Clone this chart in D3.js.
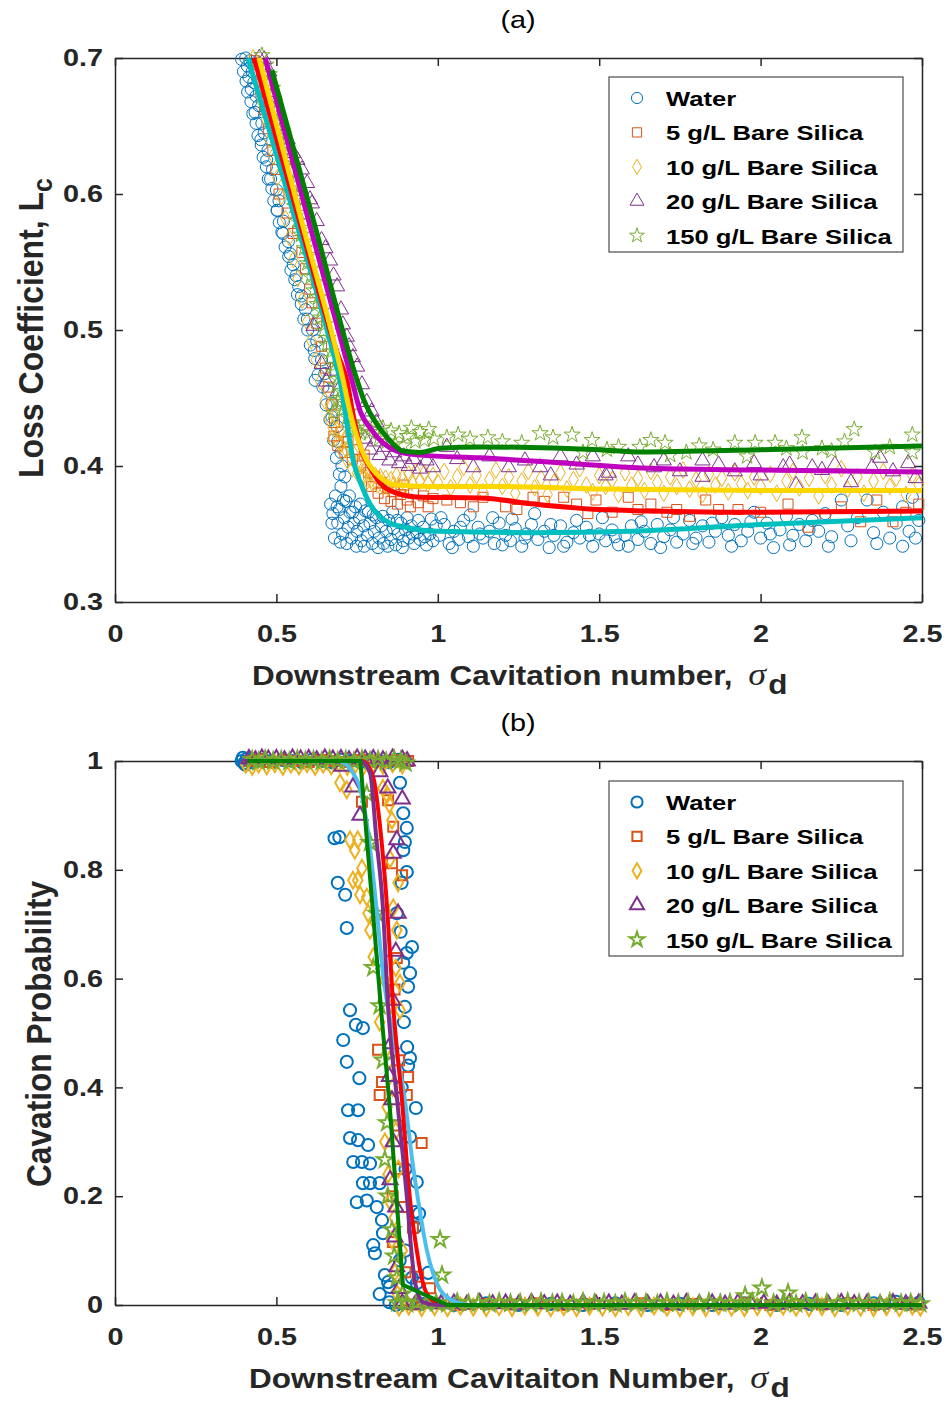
<!DOCTYPE html>
<html>
<head>
<meta charset="utf-8">
<script src="https://cdn.jsdelivr.net/npm/d3@7"></script>
<style>
  body { margin: 0; background: #fff; }
  svg text { font-family: "Liberation Sans", Arial, sans-serif; }
</style>
</head>
<body>
<div id="chart"></div>
<script>
// ---- tick labels and series names ----
const xTicks = [0, 0.5, 1, 1.5, 2, 2.5];
const yTicksA = [0.3, 0.4, 0.5, 0.6, 0.7];
const yTicksB = [0, 0.2, 0.4, 0.6, 0.8, 1];
const seriesNames = ["Water", "5 g/L Bare Silica", "10 g/L Bare Silica", "20 g/L Bare Silica", "150 g/L Bare Silica"];

// ---- (a) loss coefficient, measured points [sigma_d, Lc] ----
const waterA = [
  [0.405,0.700],[0.418,0.698],[0.410,0.694],[0.425,0.690],[0.415,0.686],[0.430,0.682],[0.422,0.677],[0.437,0.672],
  [0.445,0.665],[0.434,0.660],[0.455,0.652],[0.462,0.645],[0.452,0.640],[0.474,0.632],[0.470,0.625],[0.488,0.618],
  [0.482,0.611],[0.500,0.603],[0.508,0.595],[0.503,0.588],[0.522,0.580],[0.517,0.572],[0.537,0.565],[0.543,0.556],
  [0.552,0.548],[0.561,0.540],[0.569,0.532],[0.578,0.525],[0.590,0.515],[0.596,0.508],[0.612,0.500],[0.625,0.492],
  [0.617,0.485],[0.640,0.478],[0.650,0.468],[0.620,0.463],[0.660,0.455],[0.672,0.446],[0.672,0.436],[0.688,0.429],
  [0.690,0.418],[0.700,0.410],[0.703,0.400],[0.712,0.392],
  [0.392,0.699],[0.398,0.690],[0.406,0.683],[0.411,0.675],[0.421,0.668],[0.427,0.659],[0.437,0.652],[0.443,0.643],
  [0.453,0.636],[0.459,0.627],[0.469,0.620],[0.475,0.611],[0.486,0.604],[0.492,0.595],[0.502,0.588],[0.509,0.579],
  [0.520,0.571],[0.527,0.561],[0.538,0.554],[0.545,0.544],[0.557,0.537],[0.565,0.526],[0.577,0.519],[0.585,0.508],
  [0.597,0.500],[0.605,0.489],[0.619,0.479],[0.629,0.467],[0.644,0.458],[0.654,0.445],[0.666,0.434],[0.677,0.419],
  [0.686,0.406],[0.695,0.394],
  [0.668,0.372],[0.675,0.365],[0.683,0.378],[0.690,0.358],[0.695,0.368],[0.700,0.385],[0.705,0.350],[0.710,0.362],
  [0.716,0.374],[0.722,0.355],[0.728,0.366],[0.733,0.347],[0.740,0.358],[0.745,0.370],[0.750,0.352],[0.757,0.362],
  [0.763,0.345],[0.770,0.356],[0.776,0.367],[0.782,0.349],[0.790,0.358],[0.797,0.343],[0.803,0.352],[0.810,0.362],
  [0.818,0.347],[0.825,0.356],[0.832,0.343],[0.840,0.352],[0.848,0.360],[0.855,0.346],[0.863,0.354],[0.870,0.342],
  [0.878,0.350],[0.886,0.358],[0.893,0.345],[0.900,0.353],[0.910,0.347],[0.918,0.356],[0.927,0.343],[0.935,0.351],
  [0.945,0.346],[0.955,0.355],[0.965,0.342],[0.975,0.350],[0.985,0.345],[0.995,0.356],
  [0.672,0.358],[0.680,0.347],[0.688,0.370],[0.698,0.344],[0.708,0.375],[0.718,0.343],[0.726,0.378],[0.736,0.366],
  [0.748,0.341],[0.760,0.372],[0.772,0.341],[0.785,0.366],[0.800,0.364],[0.815,0.340],[0.830,0.363],[0.845,0.341],
  [0.860,0.366],[0.875,0.360],[0.890,0.340],[0.905,0.362],[0.922,0.350],[0.940,0.360],[0.960,0.348],[0.980,0.361],
  [1.005,0.349],[1.020,0.357],[1.035,0.343],[1.050,0.352],[1.065,0.346],[1.080,0.360],[1.095,0.348],[1.110,0.341],
  [1.125,0.355],[1.140,0.347],[1.160,0.352],[1.175,0.343],[1.190,0.358],[1.210,0.349],[1.225,0.345],[1.240,0.354],
  [1.260,0.341],[1.275,0.350],[1.290,0.357],[1.310,0.346],[1.330,0.352],[1.345,0.340],[1.360,0.349],[1.380,0.356],
  [1.400,0.344],[1.420,0.351],[1.440,0.347],[1.460,0.355],[1.480,0.341],[1.500,0.350],[1.520,0.345],[1.540,0.353],
  [1.560,0.342],[1.580,0.349],[1.600,0.356],[1.620,0.346],[1.640,0.352],[1.660,0.343],[1.680,0.357],[1.700,0.348],
  [1.720,0.353],[1.740,0.344],[1.760,0.350],[1.780,0.360],[1.800,0.347],[1.820,0.356],[1.840,0.344],[1.860,0.352],
  [1.880,0.362],[1.900,0.349],[1.920,0.357],[1.940,0.345],[1.960,0.352],[1.980,0.366],[2.000,0.347],[2.020,0.358],
  [2.040,0.340],[2.060,0.353],[2.080,0.363],[2.100,0.349],[2.120,0.357],[2.140,0.345],[2.160,0.360],[2.180,0.352],
  [2.200,0.365],[2.220,0.348],[2.250,0.375],[2.270,0.356],[2.300,0.362],[2.330,0.375],[2.350,0.351],[2.380,0.366],
  [2.400,0.347],[2.420,0.358],[2.440,0.370],[2.460,0.352],[2.470,0.377],[2.490,0.360],
  [1.010,0.362],[1.045,0.340],[1.070,0.355],[1.100,0.364],[1.130,0.350],[1.170,0.362],[1.200,0.342],[1.230,0.361],
  [1.270,0.347],[1.300,0.365],[1.350,0.357],[1.390,0.341],[1.430,0.360],[1.470,0.349],[1.510,0.362],[1.550,0.348],
  [1.590,0.341],[1.630,0.359],[1.690,0.340],[1.730,0.362],[1.790,0.343],[1.850,0.358],[1.910,0.341],[1.970,0.359],
  [2.030,0.350],[2.090,0.342],[2.150,0.353],[2.210,0.341],[2.280,0.345],[2.360,0.343],[2.440,0.341],[2.480,0.347]
];
const silica5A = [
  [0.432,0.698],[0.441,0.688],[0.452,0.675],[0.463,0.662],[0.476,0.648],[0.489,0.632],[0.498,0.618],[0.508,0.600],
  [0.533,0.586],[0.552,0.571],[0.566,0.573],[0.579,0.557],[0.590,0.545],[0.603,0.530],[0.610,0.520],[0.625,0.505],
  [0.640,0.488],[0.652,0.472],[0.662,0.458],[0.672,0.445],[0.680,0.432],
  [0.678,0.422],[0.690,0.415],[0.700,0.425],[0.712,0.410],[0.722,0.418],[0.735,0.405],[0.748,0.412],[0.760,0.400],
  [0.772,0.408],[0.785,0.395],[0.795,0.385],[0.805,0.392],[0.815,0.380],[0.825,0.388],[0.835,0.376],[0.845,0.384],
  [0.855,0.374],[0.865,0.381],[0.875,0.372],[0.885,0.379],[0.895,0.386],[0.905,0.375],[0.915,0.370],[0.925,0.380],
  [0.940,0.373],[0.955,0.378],[0.970,0.370],[0.985,0.376],
  [1.028,0.375],[1.070,0.373],[1.110,0.370],[1.140,0.377],[1.210,0.370],[1.245,0.368],[1.295,0.377],[1.330,0.374],
  [1.390,0.377],[1.430,0.372],[1.465,0.365],[1.490,0.375],[1.540,0.366],[1.590,0.377],[1.620,0.368],[1.660,0.372],
  [1.710,0.366],[1.740,0.368],[1.780,0.363],[1.830,0.375],[1.870,0.368],[1.930,0.368],[2.000,0.366],[2.085,0.372],
  [2.147,0.355],[2.200,0.362],[2.250,0.370],[2.310,0.359],[2.360,0.375],[2.410,0.359],[2.450,0.366],[2.490,0.372]
];
const silica10A = [
  [0.428,0.700],[0.438,0.690],[0.446,0.680],[0.455,0.668],[0.468,0.655],[0.480,0.640],[0.490,0.628],[0.503,0.612],
  [0.515,0.598],[0.528,0.582],[0.540,0.568],[0.553,0.552],[0.566,0.538],[0.580,0.522],[0.595,0.506],[0.608,0.492],
  [0.622,0.478],[0.636,0.462],[0.650,0.448],[0.662,0.435],
  [0.666,0.445],[0.675,0.428],[0.682,0.436],[0.690,0.418],[0.698,0.425],[0.705,0.410],[0.712,0.420],[0.720,0.404],
  [0.728,0.415],[0.735,0.398],[0.742,0.408],[0.750,0.395],[0.758,0.402],[0.766,0.392],[0.774,0.398],[0.782,0.389],
  [0.790,0.395],[0.798,0.387],[0.806,0.393],[0.814,0.386],[0.822,0.392],[0.830,0.385],[0.838,0.391],[0.846,0.384],
  [0.855,0.390],[0.863,0.386],[0.872,0.393],[0.880,0.385],[0.890,0.391],[0.900,0.386],[0.910,0.394],[0.920,0.388],
  [0.932,0.396],[0.945,0.389],[0.958,0.395],[0.970,0.387],[0.985,0.393],
  [0.672,0.420],[0.686,0.427],[0.700,0.416],[0.716,0.412],[0.732,0.406],[0.748,0.402],[0.770,0.392],[0.794,0.390],
  [1.000,0.388],[1.020,0.396],[1.040,0.384],[1.060,0.392],[1.080,0.399],[1.100,0.386],[1.120,0.393],[1.140,0.381],
  [1.160,0.390],[1.180,0.397],[1.200,0.385],[1.220,0.392],[1.240,0.380],[1.260,0.389],[1.280,0.396],[1.300,0.384],
  [1.320,0.391],[1.340,0.379],[1.360,0.388],[1.380,0.395],[1.400,0.383],[1.420,0.390],[1.440,0.398],[1.460,0.386],
  [1.480,0.381],[1.500,0.393],[1.520,0.385],[1.540,0.390],[1.560,0.379],[1.580,0.395],[1.600,0.386],[1.620,0.391],
  [1.640,0.382],[1.660,0.396],[1.680,0.388],[1.700,0.380],[1.720,0.392],[1.740,0.385],[1.760,0.397],[1.780,0.383],
  [1.800,0.390],[1.820,0.379],[1.840,0.394],[1.860,0.386],[1.880,0.391],[1.900,0.381],[1.920,0.395],[1.940,0.387],
  [1.960,0.382],[1.980,0.392],[2.000,0.385],[2.030,0.394],[2.050,0.380],[2.080,0.389],[2.100,0.396],[2.120,0.384],
  [2.150,0.391],[2.180,0.378],[2.200,0.393],[2.220,0.386],[2.250,0.398],[2.270,0.383],[2.300,0.392],[2.320,0.380],
  [2.350,0.389],[2.380,0.396],[2.400,0.385],[2.420,0.391],[2.450,0.379],[2.470,0.393],[2.490,0.386]
];
const silica20A = [
  [0.447,0.700],[0.462,0.699],[0.478,0.690],[0.492,0.675],[0.505,0.662],[0.520,0.650],[0.535,0.640],[0.552,0.630],
  [0.565,0.625],[0.579,0.618],[0.595,0.608],[0.604,0.596],[0.610,0.593],[0.625,0.580],[0.640,0.566],[0.652,0.560],
  [0.666,0.551],[0.677,0.540],[0.688,0.532],[0.700,0.515],[0.706,0.504],[0.718,0.495],[0.725,0.488],[0.737,0.480],
  [0.750,0.473],[0.765,0.460],[0.780,0.447],[0.795,0.440],[0.810,0.432],
  [0.615,0.503],[0.640,0.475],[0.655,0.462],[0.672,0.470],[0.690,0.455],
  [0.775,0.420],[0.790,0.412],[0.805,0.418],[0.820,0.408],[0.835,0.414],[0.850,0.404],[0.865,0.410],[0.880,0.402],
  [0.895,0.407],[0.910,0.400],[0.925,0.405],[0.945,0.398],[0.965,0.404],[0.985,0.399],
  [1.028,0.414],[1.060,0.405],[1.110,0.399],[1.160,0.407],[1.220,0.399],[1.270,0.404],[1.317,0.399],[1.350,0.393],
  [1.380,0.407],[1.430,0.401],[1.480,0.407],[1.520,0.393],[1.530,0.395],[1.590,0.407],[1.620,0.401],[1.670,0.399],
  [1.700,0.404],[1.750,0.396],[1.820,0.404],[1.820,0.392],[1.870,0.401],[1.920,0.396],[1.980,0.402],[2.000,0.393],
  [2.070,0.399],[2.090,0.401],[2.110,0.386],[2.160,0.399],[2.190,0.397],[2.230,0.401],[2.280,0.388],[2.345,0.399],
  [2.370,0.406],[2.410,0.396],[2.457,0.402],[2.480,0.391]
];
const silica150A = [
  [0.455,0.702],[0.468,0.695],[0.478,0.688],[0.488,0.678],[0.495,0.668],[0.505,0.658],[0.514,0.648],[0.522,0.638],
  [0.532,0.628],[0.542,0.617],[0.550,0.607],[0.560,0.597],[0.570,0.586],[0.580,0.575],[0.590,0.565],[0.600,0.555],
  [0.610,0.545],[0.620,0.535],[0.630,0.524],[0.640,0.514],[0.650,0.504],[0.660,0.494],[0.670,0.484],[0.680,0.474],
  [0.690,0.464],[0.700,0.455],[0.712,0.447],[0.724,0.440],[0.738,0.432],[0.752,0.428],[0.675,0.439],[0.690,0.448],
  [0.462,0.690],[0.474,0.680],[0.483,0.672],[0.492,0.662],[0.501,0.652],[0.510,0.642],[0.519,0.632],[0.528,0.622],
  [0.537,0.612],[0.547,0.601],[0.556,0.591],[0.566,0.580],[0.576,0.570],[0.586,0.560],[0.596,0.549],[0.606,0.539],
  [0.616,0.529],[0.626,0.519],[0.636,0.509],[0.646,0.499],[0.656,0.489],[0.666,0.479],[0.676,0.469],[0.686,0.459],
  [0.697,0.450],[0.708,0.442],[0.720,0.436],[0.732,0.430],[0.745,0.426],[0.760,0.424],[0.775,0.428],
  [0.790,0.425],[0.805,0.431],[0.818,0.420],[0.830,0.428],[0.842,0.418],[0.855,0.426],[0.868,0.416],[0.880,0.424],
  [0.893,0.415],[0.905,0.422],[0.918,0.428],[0.930,0.418],[0.945,0.425],[0.958,0.419],[0.972,0.427],[0.988,0.420],
  [1.028,0.421],[1.063,0.423],[1.100,0.420],[1.155,0.421],[1.200,0.418],[1.260,0.417],[1.317,0.424],[1.357,0.421],
  [1.416,0.423],[1.450,0.410],[1.478,0.419],[1.524,0.412],[1.560,0.414],[1.626,0.414],[1.660,0.419],[1.704,0.417],
  [1.720,0.408],[1.770,0.410],[1.810,0.415],[1.853,0.412],[1.920,0.417],[1.958,0.407],[1.983,0.417],[2.045,0.417],
  [2.080,0.413],[2.128,0.421],[2.130,0.410],[2.190,0.413],[2.220,0.411],[2.260,0.418],[2.290,0.427],[2.355,0.410],
  [2.400,0.414],[2.470,0.423],[2.470,0.410]
];

// ---- (a) fitted curves ----
const fitWaterA = [[0.412,0.700],[0.536,0.600],[0.657,0.500],[0.697,0.463],[0.740,0.402],[0.765,0.385],[0.790,0.372],
  [0.820,0.363],[0.852,0.358],[0.900,0.355],[0.945,0.353],[1.000,0.352],[1.300,0.351],[1.600,0.352],[2.000,0.357],[2.500,0.362]];
const fit5A = [[0.431,0.700],[0.560,0.590],[0.690,0.482],[0.718,0.463],[0.738,0.437],[0.760,0.414],[0.790,0.399],
  [0.820,0.388],[0.873,0.380],[0.945,0.377],[1.130,0.3765],[1.300,0.372],[1.500,0.368],[1.650,0.367],[2.000,0.366],[2.500,0.367]];
const fit10A = [[0.446,0.700],[0.576,0.582],[0.707,0.463],[0.728,0.440],[0.750,0.421],[0.780,0.404],[0.820,0.392],
  [0.873,0.386],[0.976,0.385],[1.200,0.385],[1.500,0.383],[2.000,0.382],[2.500,0.382]];
const fit20A = [[0.465,0.700],[0.600,0.580],[0.734,0.463],[0.760,0.440],[0.790,0.428],[0.830,0.417],[0.873,0.411],
  [0.945,0.408],[1.130,0.406],[1.400,0.402],[1.630,0.3985],[2.000,0.397],[2.500,0.3956]];
const fit150A = [[0.486,0.691],[0.620,0.576],[0.750,0.463],[0.770,0.449],[0.790,0.439],[0.843,0.421],[0.892,0.411],
  [0.945,0.410],[1.007,0.413],[1.130,0.414],[1.500,0.412],[1.630,0.4103],[2.000,0.412],[2.500,0.4147]];

// ---- (b) cavitation probability, measured points [sigma_d, P] ----
const waterB = [
  [0.392,1.000],[0.400,0.996],[0.408,1.004],[0.418,1.000],[0.430,0.997],[0.450,1.002],[0.470,1.000],[0.490,0.998],
  [0.520,1.002],[0.550,1.000],[0.580,0.997],[0.610,1.002],[0.640,1.000],[0.670,0.998],[0.700,1.002],[0.730,1.000],
  [0.760,0.998],[0.790,1.002],[0.820,1.000],[0.850,0.998],[0.877,1.002],[0.897,1.000],[0.396,1.006],[0.404,0.993],
  [0.883,0.960],[0.893,0.904],[0.904,0.877],[0.898,0.851],[0.893,0.836],[0.904,0.796],[0.888,0.776],[0.873,0.720],
  [0.885,0.686],[0.920,0.658],[0.904,0.647],[0.893,0.629],[0.914,0.610],[0.908,0.585],[0.898,0.548],[0.905,0.474],
  [0.914,0.454],[0.908,0.440],[0.932,0.362],[0.914,0.309],[0.935,0.226],[0.930,0.171],[0.942,0.168],[0.930,0.143],
  [0.970,0.059],[0.935,0.040],[0.882,0.082],[0.900,0.100],[0.920,0.050],[0.895,0.520],[0.888,0.400],[0.900,0.250],
  [0.680,0.858],[0.695,0.860],[0.690,0.776],[0.713,0.754],[0.718,0.693],[0.728,0.542],[0.746,0.515],[0.768,0.509],
  [0.707,0.487],[0.718,0.447],[0.757,0.417],[0.722,0.358],[0.753,0.358],[0.728,0.307],[0.753,0.303],[0.784,0.294],
  [0.738,0.263],[0.765,0.263],[0.790,0.260],[0.768,0.224],[0.790,0.224],[0.820,0.224],[0.749,0.189],[0.780,0.192],
  [0.811,0.180],[0.827,0.156],[0.830,0.132],[0.800,0.110],[0.805,0.095],[0.836,0.055],[0.850,0.033],[0.846,0.042],
  [0.850,0.005],[0.820,0.020],
  [0.870,0.000],[0.950,0.002],[1.050,0.000],[1.150,0.003],[1.250,0.000],[1.350,0.002],[1.450,0.000],[1.550,0.003],
  [1.650,0.000],[1.750,0.002],[1.850,0.000],[1.950,0.003],[2.050,0.000],[2.150,0.002],[2.250,0.000],[2.350,0.003],
  [2.420,0.006],[2.460,0.002],[2.490,0.004]
];
const silica5B = [
  [0.420,1.000],[0.450,1.003],[0.480,0.998],[0.520,1.002],[0.560,1.000],[0.600,0.998],[0.640,1.002],[0.680,1.000],
  [0.720,0.998],[0.760,1.002],[0.800,1.000],[0.840,0.998],[0.870,1.002],[0.893,1.000],[0.908,1.000],
  [0.765,0.925],[0.846,0.928],[0.862,0.879],[0.858,0.812],[0.889,0.790],[0.873,0.638],[0.866,0.580],[0.815,0.469],
  [0.827,0.410],[0.820,0.386],[0.908,0.419],[0.904,0.386],[0.950,0.298],[0.923,0.142],[0.861,0.116],[0.939,0.052],
  [0.976,0.031],[0.880,0.250],[0.890,0.180],[0.860,0.200],[0.875,0.330],[0.880,0.450],[0.900,0.060],
  [0.920,0.001],[0.990,0.003],[1.070,0.000],[1.150,0.002],[1.230,0.001],[1.310,0.003],[1.390,0.000],[1.470,0.002],
  [1.550,0.001],[1.630,0.003],[1.710,0.000],[1.790,0.002],[1.870,0.001],[1.950,0.003],[2.030,0.000],[2.110,0.002],
  [2.190,0.001],[2.270,0.003],[2.350,0.000],[2.430,0.002],[2.485,0.001]
];
const silica10B = [
  [0.405,0.994],[0.425,0.990],[0.445,0.994],[0.470,0.991],[0.495,0.995],[0.520,0.990],[0.545,0.994],[0.570,0.991],
  [0.595,0.995],[0.620,0.990],[0.645,0.994],[0.670,0.991],[0.695,0.995],[0.720,0.990],[0.745,0.994],[0.770,0.991],
  [0.800,0.995],[0.830,0.992],[0.860,0.995],[0.890,0.993],
  [0.697,0.960],[0.718,0.947],[0.728,0.855],[0.743,0.836],[0.752,0.855],[0.737,0.781],[0.752,0.781],[0.765,0.803],
  [0.759,0.754],[0.780,0.750],[0.790,0.689],[0.784,0.720],[0.858,0.891],[0.843,0.938],[0.830,0.950],[0.850,0.920],
  [0.852,0.820],[0.877,0.776],[0.862,0.730],[0.873,0.689],[0.883,0.592],[0.870,0.620],[0.860,0.550],[0.883,0.542],
  [0.843,0.364],[0.836,0.300],[0.846,0.240],[0.852,0.190],[0.858,0.120],[0.867,0.060],[0.850,0.450],[0.860,0.400],
  [0.870,0.320],[0.878,0.250],[0.865,0.160],[0.890,0.100],[0.820,0.520],[0.875,0.020],[0.836,0.597],[0.800,0.640],
  [0.880,-0.004],[0.910,-0.002],[0.950,-0.005],[0.990,-0.003],[1.030,-0.005],[1.070,-0.002],[1.110,-0.004],[1.150,-0.005],
  [1.190,-0.003],[1.230,-0.005],[1.270,-0.002],[1.310,-0.004],[1.350,-0.005],[1.390,-0.003],[1.430,-0.005],[1.470,-0.002],
  [1.510,-0.004],[1.550,-0.005],[1.590,-0.003],[1.630,-0.005],[1.670,-0.002],[1.710,-0.004],[1.750,-0.005],[1.790,-0.003],
  [1.830,-0.005],[1.870,-0.002],[1.910,-0.004],[1.950,-0.005],[1.990,-0.003],[2.030,-0.005],[2.070,-0.002],[2.110,-0.004],
  [2.150,-0.005],[2.190,-0.003],[2.230,-0.005],[2.270,-0.002],[2.310,-0.004],[2.350,-0.005],[2.390,-0.003],[2.430,-0.005],
  [2.470,-0.002],[2.495,-0.004]
];
const silica20B = [
  [0.415,1.004],[0.435,1.002],[0.455,1.005],[0.475,1.003],[0.500,1.004],[0.525,1.002],[0.550,1.005],[0.575,1.003],
  [0.600,1.004],[0.625,1.002],[0.650,1.005],[0.675,1.003],[0.700,1.004],[0.725,1.002],[0.750,1.005],[0.775,1.003],
  [0.800,1.004],[0.830,1.002],[0.860,1.005],[0.890,1.003],[0.905,1.000],
  [0.703,0.990],[0.737,0.952],[0.759,0.900],[0.873,0.855],[0.862,0.830],[0.877,0.720],[0.870,0.650],[0.860,0.560],
  [0.858,0.377],[0.852,0.230],[0.867,0.125],[0.873,0.070],[0.880,0.030],[0.855,0.480],[0.862,0.300],[0.870,0.180],
  [0.850,0.420],[0.890,0.930],[0.820,0.980],[0.845,0.950],
  [0.890,0.003],[0.930,0.001],[0.970,0.004],[1.010,0.002],[1.050,0.003],[1.090,0.001],[1.130,0.004],[1.170,0.002],
  [1.210,0.003],[1.250,0.001],[1.290,0.004],[1.330,0.002],[1.370,0.003],[1.410,0.001],[1.450,0.004],[1.490,0.002],
  [1.530,0.003],[1.570,0.001],[1.610,0.004],[1.650,0.002],[1.690,0.003],[1.730,0.001],[1.770,0.004],[1.810,0.002],
  [1.850,0.003],[1.890,0.001],[1.930,0.004],[1.970,0.002],[2.010,0.003],[2.050,0.001],[2.090,0.004],[2.130,0.002],
  [2.170,0.003],[2.210,0.001],[2.250,0.004],[2.290,0.002],[2.330,0.003],[2.370,0.001],[2.410,0.004],[2.450,0.002],
  [2.490,0.003]
];
const silica150B = [
  [0.425,1.002],[0.445,0.999],[0.465,1.003],[0.490,1.000],[0.515,1.002],[0.540,0.999],[0.565,1.003],[0.590,1.000],
  [0.615,1.002],[0.640,0.999],[0.665,1.003],[0.690,1.000],[0.715,1.002],[0.740,0.999],[0.765,1.003],[0.790,1.000],
  [0.815,1.002],[0.840,0.999],[0.865,1.003],[0.885,1.000],[0.900,0.996],
  [0.843,0.335],[0.836,0.267],[0.858,0.138],[0.873,0.050],[1.007,0.120],[1.013,0.055],[0.820,0.550],[0.830,0.450],
  [0.845,0.200],[0.865,0.090],[0.890,0.020],[0.800,0.620],[0.810,0.720],[0.790,0.850],[0.780,0.940],
  [0.875,0.004],[0.905,0.002],[0.935,0.005],[0.965,0.003],[0.995,0.004],[1.030,0.002],[1.060,0.005],[1.095,0.003],
  [1.125,0.004],[1.160,0.002],[1.190,0.005],[1.225,0.003],[1.255,0.004],[1.290,0.002],[1.320,0.005],[1.355,0.003],
  [1.385,0.004],[1.420,0.002],[1.450,0.005],[1.485,0.003],[1.515,0.004],[1.550,0.002],[1.580,0.005],[1.615,0.003],
  [1.645,0.004],[1.680,0.002],[1.710,0.005],[1.745,0.003],[1.775,0.004],[1.810,0.002],[1.840,0.005],[1.875,0.003],
  [1.905,0.004],[1.940,0.002],[1.975,0.005],[2.040,0.003],[2.070,0.004],[2.110,0.002],[2.140,0.005],[2.175,0.003],
  [2.205,0.004],[2.240,0.002],[2.270,0.005],[2.305,0.003],[2.335,0.004],[2.370,0.002],[2.400,0.005],[2.435,0.003],
  [2.465,0.004],[2.495,0.002],[1.952,0.017],[2.004,0.031],[2.085,0.022]
];

// ---- (b) fitted curves ----
const fitWaterB = [[0.40,1],[0.69,1],[0.75,0.965],[0.78,0.886],[0.81,0.73],[0.83,0.61],[0.86,0.50],[0.898,0.377],
  [0.92,0.27],[0.939,0.193],[0.966,0.101],[0.997,0.040],[1.04,0.010],[1.10,0],[2.5,0]];
const fit5B = [[0.40,1],[0.765,1],[0.80,0.97],[0.82,0.886],[0.843,0.73],[0.862,0.548],[0.889,0.377],[0.914,0.193],
  [0.935,0.10],[0.954,0.04],[0.98,0.01],[1.02,0],[2.5,0]];
const fit20B = [[0.40,1],[0.76,1],[0.79,0.978],[0.81,0.855],[0.83,0.73],[0.846,0.548],[0.874,0.377],[0.905,0.193],
  [0.918,0.10],[0.93,0.04],[0.955,0.005],[1.0,0],[2.5,0]];
const fit150B = [[0.41,1],[0.76,1],[0.827,0.524],[0.852,0.358],[0.892,0.037],[1.03,0],[2.5,0]];

// ---- styling ----
const markerColors = ["#0072BD", "#D95319", "#EDB120", "#7E2F8E", "#77AC30"];
const markerTypes = [d3.symbolCircle, d3.symbolSquare, d3.symbolDiamond, d3.symbolTriangle, d3.symbolStar];
const markerSizes = [115, 100, 80, 100, 80];
const axisColor = "#262626";

const width = 947, height = 1405;
const svg = d3.select("#chart").append("svg")
  .attr("width", width).attr("height", height);

const x = d3.scaleLinear().domain([0, 2.5]).range([115, 922]);

// text helper: fits a label to a measured width (figure text is stretched horizontally)
function addText(parent, px, py, opt) {
  const g = parent.append("g");
  const t = g.append("text")
    .attr("text-anchor", opt.anchor || "start")
    .attr("font-size", opt.size)
    .attr("font-weight", opt.weight || "bold")
    .attr("fill", opt.fill || axisColor);
  opt.parts.forEach(p => {
    const s = t.append("tspan").text(p.text);
    if (p.italic) s.attr("font-style", "italic").attr("font-family", "'Liberation Serif', 'DejaVu Serif', serif").attr("font-weight", "normal");
    if (p.size) s.attr("font-size", p.size);
    if (p.dx) s.attr("dx", p.dx);
    if (p.dy) s.attr("dy", p.dy);
  });
  let sx = opt.sx || 1;
  if (opt.width) sx = opt.width / t.node().getBBox().width;
  const rot = opt.rotate ? " rotate(-90)" : "";
  g.attr("transform", `translate(${px},${py})${rot} scale(${sx},${opt.sy || 1})`);
  return g;
}

function drawPanel(o) {
  const g = svg.append("g");
  const y = d3.scaleLinear().domain(o.yDomain).range([o.bottom, o.top]);

  // axes (inward ticks, full box)
  const styleAxis = a => {
    a.selectAll("path,line").attr("stroke", axisColor).attr("stroke-width", 1.5);
    a.select(".domain").attr("fill", "none");
    a.attr("font-size", 24).attr("font-weight", "bold")
      .attr("font-family", "'Liberation Sans', Arial, sans-serif");
    a.selectAll("text").attr("fill", axisColor).attr("transform", "scale(1.2,1)");
  };
  g.append("g").attr("transform", `translate(0,${o.bottom})`)
    .call(d3.axisBottom(x).tickValues(xTicks).tickSizeInner(-8).tickSizeOuter(0)
      .tickPadding(23).tickFormat(d => String(d)))
    .call(styleAxis);
  g.append("g").attr("transform", `translate(0,${o.top})`)
    .call(d3.axisTop(x).tickValues(xTicks).tickSizeInner(-8).tickSizeOuter(0).tickFormat(""))
    .call(styleAxis);
  g.append("g").attr("transform", "translate(115,0)")
    .call(d3.axisLeft(y).tickValues(o.yTicks).tickSizeInner(-8).tickSizeOuter(0)
      .tickPadding(10).tickFormat(d => String(d)))
    .call(styleAxis);
  g.append("g").attr("transform", "translate(922,0)")
    .call(d3.axisRight(y).tickValues(o.yTicks).tickSizeInner(-8).tickSizeOuter(0).tickFormat(""))
    .call(styleAxis);

  // scatter markers
  o.points.forEach((pts, i) => {
    g.append("g").selectAll("path").data(pts).join("path")
      .attr("transform", d => `translate(${x(d[0])},${y(d[1])})`)
      .attr("d", d3.symbol(markerTypes[i], markerSizes[i]))
      .attr("fill", "none")
      .attr("stroke", markerColors[i])
      .attr("stroke-width", o.markerStroke);
  });

  // fitted curves
  o.fits.forEach((f, i) => {
    g.append("path").datum(f)
      .attr("d", d3.line().x(d => x(d[0])).y(d => y(d[1])).curve(o.curves[i]))
      .attr("fill", "none")
      .attr("stroke", o.fitColors[i])
      .attr("stroke-width", o.fitWidth)
      .attr("stroke-linejoin", "round");
  });

  // legend
  const lg = g.append("g");
  lg.append("rect").attr("x", 609).attr("y", o.legendTop).attr("width", 294).attr("height", 175)
    .attr("fill", "#fff").attr("stroke", axisColor).attr("stroke-width", 1);
  seriesNames.forEach((name, i) => {
    const cy = o.legendTop + 21 + i * 34.4;
    lg.append("path").attr("transform", `translate(637,${cy})`)
      .attr("d", d3.symbol(markerTypes[i], markerSizes[i] * 0.85))
      .attr("fill", "none").attr("stroke", markerColors[i]).attr("stroke-width", o.markerStroke);
    addText(lg, 666, cy + 8, { size: 21, sx: 1.22, fill: "#000", parts: [{ text: name }] });
  });

  // titles and axis labels
  addText(g, 518, o.top - 30, { size: 24, weight: "normal", anchor: "middle", sx: 1.2, fill: "#000", parts: [{ text: o.title }] });
  addText(g, o.xLabelX, o.bottom + 83, {
    size: 27, width: o.xLabelW, fill: axisColor,
    parts: [{ text: o.xLabel }, { text: "σ", italic: true, size: 31, dx: 6 }, { text: "d", dy: 9, dx: 2 }]
  });
  addText(g, o.yLabelX, o.yLabelStart, Object.assign({ rotate: true, sy: 1.15, fill: axisColor }, o.yLabel));
}

drawPanel({
  title: "(a)", top: 58, bottom: 602, yDomain: [0.3, 0.7], yTicks: yTicksA,
  points: [waterA, silica5A, silica10A, silica20A, silica150A], markerStroke: 1,
  fits: [fitWaterA, fit5A, fit10A, fit20A, fit150A],
  fitColors: ["#00BFBF", "#FF0000", "#FFD700", "#BF00BF", "#008000"],
  curves: [d3.curveMonotoneX, d3.curveMonotoneX, d3.curveMonotoneX, d3.curveMonotoneX, d3.curveMonotoneX],
  fitWidth: 5, legendTop: 77,
  xLabel: "Downstream Cavitation number, ", xLabelX: 252, xLabelW: 536,
  yLabelX: 43, yLabelStart: 478,
  yLabel: { size: 31, width: 300, parts: [{ text: "Loss Coefficient, L" }, { text: "c", size: 24, dy: 8 }] }
});

drawPanel({
  title: "(b)", top: 761, bottom: 1305, yDomain: [0, 1], yTicks: yTicksB,
  points: [waterB, silica5B, silica10B, silica20B, silica150B], markerStroke: 2,
  fits: [fitWaterB, fit5B, fit20B, fit150B],
  fitColors: ["#4DBEEE", "#FF0000", "#7E2F8E", "#008000"],
  curves: [d3.curveMonotoneX, d3.curveMonotoneX, d3.curveMonotoneX, d3.curveLinear],
  fitWidth: 4, legendTop: 781,
  xLabel: "Downstream Cavitaiton Number, ", xLabelX: 249, xLabelW: 541,
  yLabelX: 51, yLabelStart: 1187,
  yLabel: { size: 31, width: 307, parts: [{ text: "Cavation Probability" }] }
});
</script>
</body>
</html>
